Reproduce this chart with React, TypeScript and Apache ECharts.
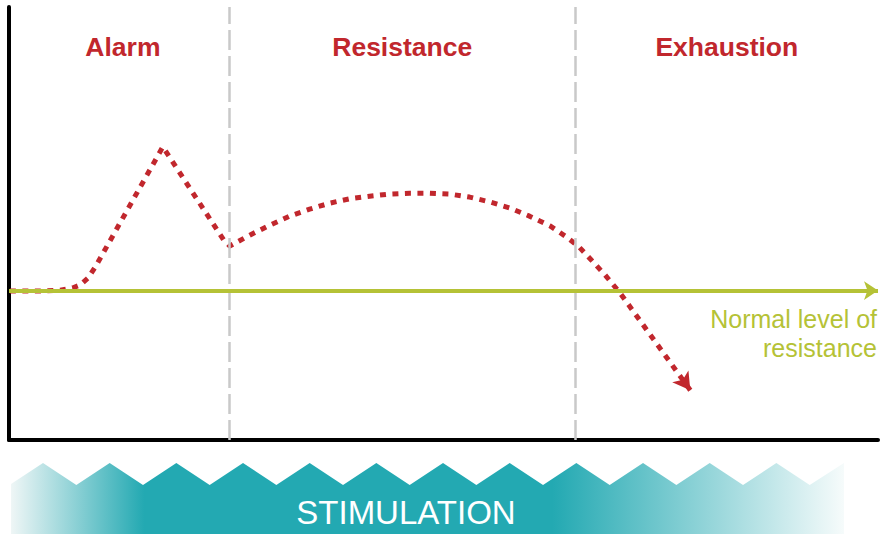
import React, { useEffect, useRef } from "react";
import * as echarts from "echarts";

// Phase labels and boundaries (x in % of the time axis)
const phaseNames = ["Alarm", "Resistance", "Exhaustion"];
const phaseBounds = [0, 25.3, 65.2, 100];
const phaseLabelShift = [4, 0, 0];

// Normal level of resistance (y in % of the vertical axis)
const normalLevel = 34.5;
const normalLabelLines = ["Normal level of", "resistance"];

// Stress-response curve: [time, resistance]
const curveX = [0.1, 3.6, 5.9, 7.3, 8.2, 9.1, 10.0, 17.7, 24.7, 25.4, 27.7, 30.0, 32.3, 34.6, 36.9, 39.2, 41.5, 43.8, 46.1, 48.4, 50.7, 53.0, 55.3, 57.6, 59.9, 62.3, 64.0, 65.5, 66.9, 68.6, 70.3, 78.4];
const curveY = [34.4, 34.4, 34.6, 35.1, 35.8, 37.4, 40.2, 67.7, 46.2, 44.8, 47.3, 49.6, 51.7, 53.3, 54.7, 55.7, 56.3, 56.8, 57.0, 57.0, 56.8, 56.1, 55.0, 53.6, 51.7, 49.4, 47.1, 44.8, 41.8, 38.1, 34.0, 11.5];

const RED = "#c1272d";
const GREEN = "#b5c236";
const TEAL = "#23a9b2";
const FONT = "'Liberation Sans', Arial, sans-serif";

export default function App() {
  const ref = useRef<HTMLDivElement>(null);

  useEffect(() => {
    if (!ref.current) return;
    const chart = echarts.init(ref.current, null, { renderer: "svg" });

    const curve = curveX.map((x, i) => [x, curveY[i]]);
    const n = curve.length;

    // Zigzag band for "STIMULATION"
    const bandLeft = 11, bandRight = 844, peakY = 463, valleyY = 485, bottomY = 534;
    const period = 66.67, firstPeak = 43;
    const pts: number[][] = [[bandLeft, bottomY]];
    pts.push([bandLeft, peakY + ((firstPeak - bandLeft) / (period / 2)) * (valleyY - peakY)]);
    for (let k = 0; k < 12; k++) {
      const p = firstPeak + k * period;
      pts.push([p, peakY]);
      const v = p + period / 2;
      if (v < bandRight) pts.push([v, valleyY]);
    }
    pts.push([bandRight, peakY]);
    pts.push([bandRight, bottomY]);

    chart.setOption({
      animation: false,
      grid: { left: 9, right: 8, top: 7, bottom: 94 },
      xAxis: {
        type: "value",
        min: 0,
        max: 100,
        axisLine: { show: true, lineStyle: { color: "#000", width: 4 } },
        axisTick: { show: false },
        axisLabel: { show: false },
        splitLine: { show: false },
      },
      yAxis: {
        type: "value",
        min: 0,
        max: 100,
        axisLine: { show: true, lineStyle: { color: "#000", width: 4 } },
        axisTick: { show: false },
        axisLabel: { show: false },
        splitLine: { show: false },
      },
      series: [
        {
          type: "line",
          data: [],
          silent: true,
          markArea: {
            silent: true,
            itemStyle: { color: "transparent" },
            label: {
              show: true,
              position: "insideTop",
              distance: 26,
              color: RED,
              fontFamily: FONT,
              fontWeight: "bold",
              fontSize: 26.5,
            },
            data: phaseNames.map((name, i) => [
              { name, xAxis: phaseBounds[i], label: { offset: [phaseLabelShift[i], 0] } },
              { xAxis: phaseBounds[i + 1] },
            ]),
          },
          markLine: {
            silent: true,
            symbol: ["none", "none"],
            label: { show: false },
            lineStyle: { color: "#c9c9c9", width: 2.5, type: [20, 6] },
            data: [{ xAxis: phaseBounds[1] }, { xAxis: phaseBounds[2] }],
          },
        },
        {
          type: "line",
          data: [],
          silent: true,
          z: 3,
          markLine: {
            silent: true,
            symbol: ["none", "arrow"],
            symbolSize: [14, 14],
            label: { show: false },
            lineStyle: { color: GREEN, width: 4, type: "solid" },
            data: [[{ coord: [0, normalLevel] }, { coord: [100, normalLevel] }]],
          },
        },
        {
          type: "line",
          data: curve,
          z: 4,
          showSymbol: false,
          symbol: "none",
          smooth: false,
          lineStyle: { color: RED, width: 5, type: [6, 6.5], cap: "butt", join: "round" },
          markLine: {
            silent: true,
            symbol: ["none", "arrow"],
            symbolSize: [15, 17],
            label: { show: false },
            lineStyle: { color: RED, width: 0, type: "solid" },
            data: [[{ coord: curve[n - 2] }, { coord: curve[n - 1] }]],
          },
        },
      ],
      graphic: [
        {
          type: "polygon",
          silent: true,
          shape: { points: pts },
          style: {
            fill: new echarts.graphic.LinearGradient(0, 0, 1, 0, [
              { offset: 0, color: "#eff6f6" },
              { offset: 0.16, color: TEAL },
              { offset: 0.65, color: TEAL },
              { offset: 1, color: "#f6fbfb" },
            ]),
          },
        },
        {
          type: "text",
          silent: true,
          x: 406,
          y: 512,
          style: {
            text: "STIMULATION",
            fill: "#ffffff",
            font: `33px ${FONT}`,
            textAlign: "center",
            textVerticalAlign: "middle",
          },
        },
        ...normalLabelLines.map((line, i) => ({
          type: "text",
          silent: true,
          x: 877,
          y: 319 + i * 29,
          style: {
            text: line,
            fill: GREEN,
            font: `25px ${FONT}`,
            textAlign: "right",
            textVerticalAlign: "middle",
          },
        })),
      ],
    });

    return () => chart.dispose();
  }, []);

  return (
    <div
      ref={ref}
      style={{ position: "fixed", left: 0, top: 0, width: 886, height: 534, background: "#fff" }}
    />
  );
}
